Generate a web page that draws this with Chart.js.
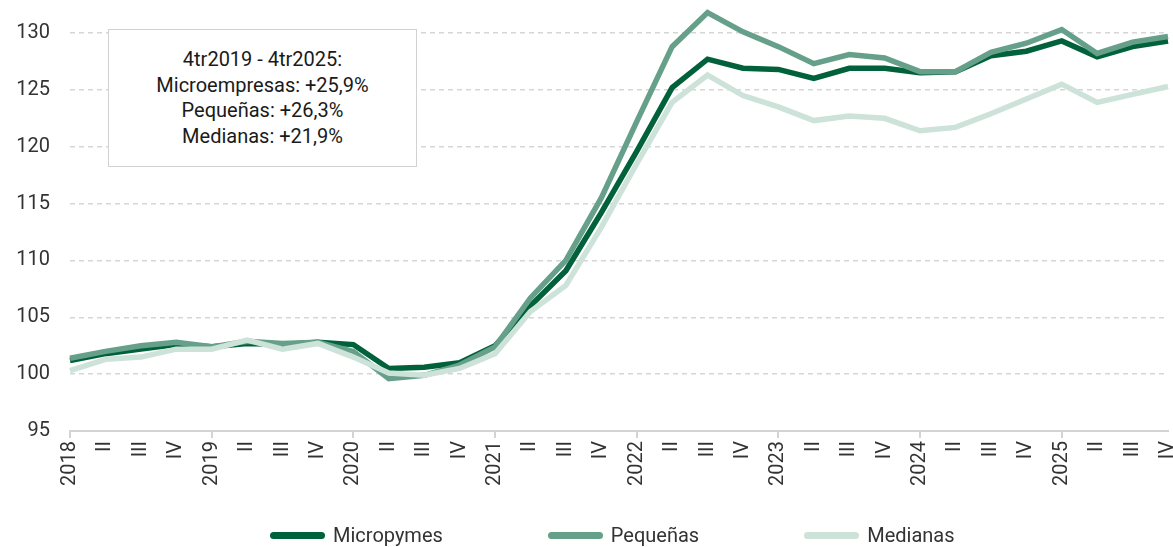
<!DOCTYPE html>
<html>
<head>
<meta charset="utf-8">
<script src="https://cdn.jsdelivr.net/npm/chart.js@4.4.1/dist/chart.umd.min.js"></script>
<style>
  html, body { margin: 0; padding: 0; background: #fff; }
  #wrap { position: relative; width: 1173px; height: 547px; font-family: Roboto, "Noto Sans", sans-serif; }
  #note {
    position: absolute; left: 108px; top: 29px; width: 307px; height: 136px;
    border: 1.5px solid #d2d2d2; background: #fff;
    display: flex; flex-direction: column; justify-content: center; align-items: center;
    font-size: 20px; line-height: 25.5px; color: #1a1a1a;
  }
  #legend { position: absolute; left: 270px; top: 523px; display: flex; gap: 105px; }
  .item { display: flex; align-items: center; font-size: 20px; color: #333; }
  .swatch { width: 55px; height: 7px; border-radius: 4px; margin-right: 8px; }
</style>
</head>
<body>
<div id="wrap">
  <canvas id="chart" width="1173" height="547"></canvas>
  <div id="note">
    <div>4tr2019 - 4tr2025:</div>
    <div>Microempresas: +25,9%</div>
    <div>Pequeñas: +26,3%</div>
    <div>Medianas: +21,9%</div>
  </div>
  <div id="legend"></div>
</div>
<script>
// ── data ────────────────────────────────────────────────────────────────
const years = ['2018', '2019', '2020', '2021', '2022', '2023', '2024', '2025'];
const quarterLabels = ['II', 'III', 'IV'];
const labels = years.flatMap(y => [y, ...quarterLabels]);

const micropymes = [
  101.2, 101.8, 102.2, 102.6,
  102.4, 102.7, 102.6, 102.8,
  102.6, 100.5, 100.6, 101.0,
  102.5, 106.0, 109.1, 114.2,
  119.6, 125.2, 127.7, 126.9,
  126.8, 126.0, 126.9, 126.9,
  126.5, 126.6, 128.0, 128.4,
  129.3, 127.9, 128.8, 129.3,
];
const pequenas = [
  101.4, 102.0, 102.5, 102.8,
  102.4, 102.9, 102.7, 102.8,
  102.0, 99.6, 99.9, 100.8,
  102.4, 106.7, 110.0, 115.5,
  122.2, 128.8, 131.8, 130.1,
  128.8, 127.3, 128.1, 127.8,
  126.6, 126.6, 128.3, 129.1,
  130.3, 128.2, 129.2, 129.7,
];
const medianas = [
  100.3, 101.3, 101.5, 102.2,
  102.2, 103.0, 102.2, 102.7,
  101.5, 100.1, 99.9, 100.5,
  101.8, 105.5, 107.8, 112.9,
  118.5, 123.9, 126.3, 124.5,
  123.5, 122.3, 122.7, 122.5,
  121.4, 121.7, 122.9, 124.2,
  125.5, 123.9, 124.6, 125.3,
];
const yTicks = [95, 100, 105, 110, 115, 120, 125, 130];

// ── colors ──────────────────────────────────────────────────────────────
const COLORS = {
  micro: '#00613b',
  peq: '#66a08a',
  med: '#cde2d8',
  grid: '#d6d6d6',
  axis: '#d4d4d4',
  text: '#333',
};

const series = [
  { label: 'Micropymes', data: micropymes, color: COLORS.micro, order: 2 },
  { label: 'Pequeñas', data: pequenas, color: COLORS.peq, order: 1 },
  { label: 'Medianas', data: medianas, color: COLORS.med, order: 0 },
];

const FONT = { family: 'Roboto, "Noto Sans", sans-serif', size: 20 };

new Chart(document.getElementById('chart'), {
  type: 'line',
  data: {
    labels,
    datasets: series.map(s => ({
      label: s.label,
      data: s.data,
      borderColor: s.color,
      backgroundColor: s.color,
      borderWidth: 5.5,
      pointRadius: 0,
      tension: 0,
      clip: false,
      order: s.order,
    })),
  },
  options: {
    responsive: false,
    animation: false,
    layout: { padding: { top: 33, right: 5, left: 0, bottom: 0 } },
    plugins: { legend: { display: false }, tooltip: { enabled: false } },
    scales: {
      x: {
        offset: false,
        afterFit: s => { s.height = 116; s.paddingLeft = 0; s.paddingRight = 0; },
        border: { color: COLORS.axis, width: 2 },
        grid: {
          drawOnChartArea: false,
          tickLength: 7,
          tickColor: ctx => (years.includes(labels[ctx.index]) ? COLORS.axis : 'transparent'),
          lineWidth: 2,
        },
        ticks: {
          autoSkip: false,
          maxRotation: 90,
          minRotation: 90,
          padding: 3,
          color: COLORS.text,
          font: FONT,
        },
      },
      y: {
        min: 95,
        max: 130,
        afterFit: s => { s.width = 70; s.paddingTop = 0; s.paddingBottom = 0; },
        afterBuildTicks: s => { s.ticks = yTicks.map(v => ({ value: v })); },
        border: { display: false, dash: [5, 4] },
        grid: {
          drawTicks: false,
          color: ctx => (ctx.tick && ctx.tick.value === 95 ? 'transparent' : COLORS.grid),
          lineWidth: 1.5,
        },
        ticks: { padding: 20, color: COLORS.text, font: FONT },
      },
    },
  },
});

// ── legend ──────────────────────────────────────────────────────────────
const legendEl = document.getElementById('legend');
for (const s of series) {
  const item = document.createElement('div');
  item.className = 'item';
  item.innerHTML = `<span class="swatch" style="background:${s.color}"></span>${s.label}`;
  legendEl.appendChild(item);
}
</script>
</body>
</html>
